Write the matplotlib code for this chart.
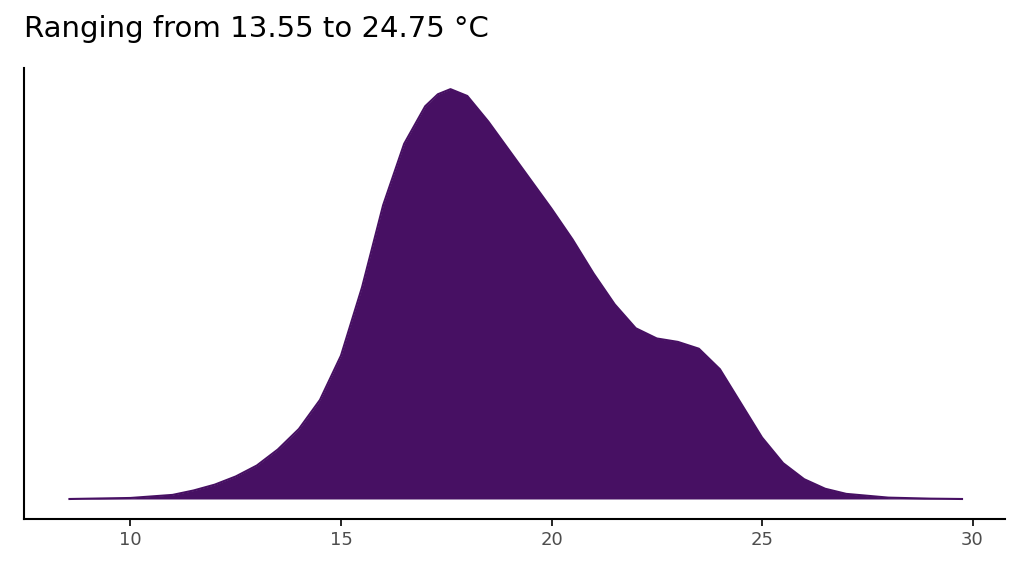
import matplotlib
matplotlib.use('Agg')
import matplotlib.pyplot as plt

# density curve (temperature in °C, density)
temp = [8.55, 10, 11, 11.5, 12, 12.5, 13, 13.5, 14, 14.5, 15, 15.5, 16, 16.5, 17, 17.3,
        17.6, 18, 18.5, 19, 19.5, 20, 20.5, 21, 21.5, 22, 22.5, 23, 23.5, 24, 24.5,
        25, 25.5, 26, 26.5, 27, 28, 29, 29.75]
dens = [0.0, 0.0003, 0.0012, 0.0025, 0.0042, 0.0066, 0.0098, 0.0145, 0.0205, 0.0290,
        0.0420, 0.0620, 0.0860, 0.1040, 0.1150, 0.1185, 0.1200, 0.1180, 0.1105, 0.1020,
        0.0935, 0.0850, 0.0760, 0.0660, 0.0570, 0.0500, 0.0470, 0.0460, 0.0440, 0.0380,
        0.0280, 0.0180, 0.0105, 0.0058, 0.0030, 0.0015, 0.0004, 0.0001, 0.0]

col = '#471063'
fig = plt.figure(figsize=(10.24, 5.76), dpi=100)
ax = fig.add_axes([0.023, 0.099, 0.958, 0.783])
ax.fill_between(temp, dens, 0, color=col, lw=0)
ax.plot(temp, dens, color=col, lw=1.5)

ax.set_xlim(7.46, 30.76)
ax.set_ylim(-0.00585, 0.1262)
ax.set_xticks([10, 15, 20, 25, 30])
ax.tick_params(axis='x', labelsize=13, labelcolor='#4d4d4d', length=5, width=1.2)
ax.set_yticks([])
for s in ['top', 'right']:
    ax.spines[s].set_visible(False)
for s in ['left', 'bottom']:
    ax.spines[s].set_linewidth(1.5)

fig.text(0.023, 0.925, 'Ranging from 13.55 to 24.75 °C', fontsize=21, ha='left', va='bottom')
fig.savefig('out.png', dpi=100)
